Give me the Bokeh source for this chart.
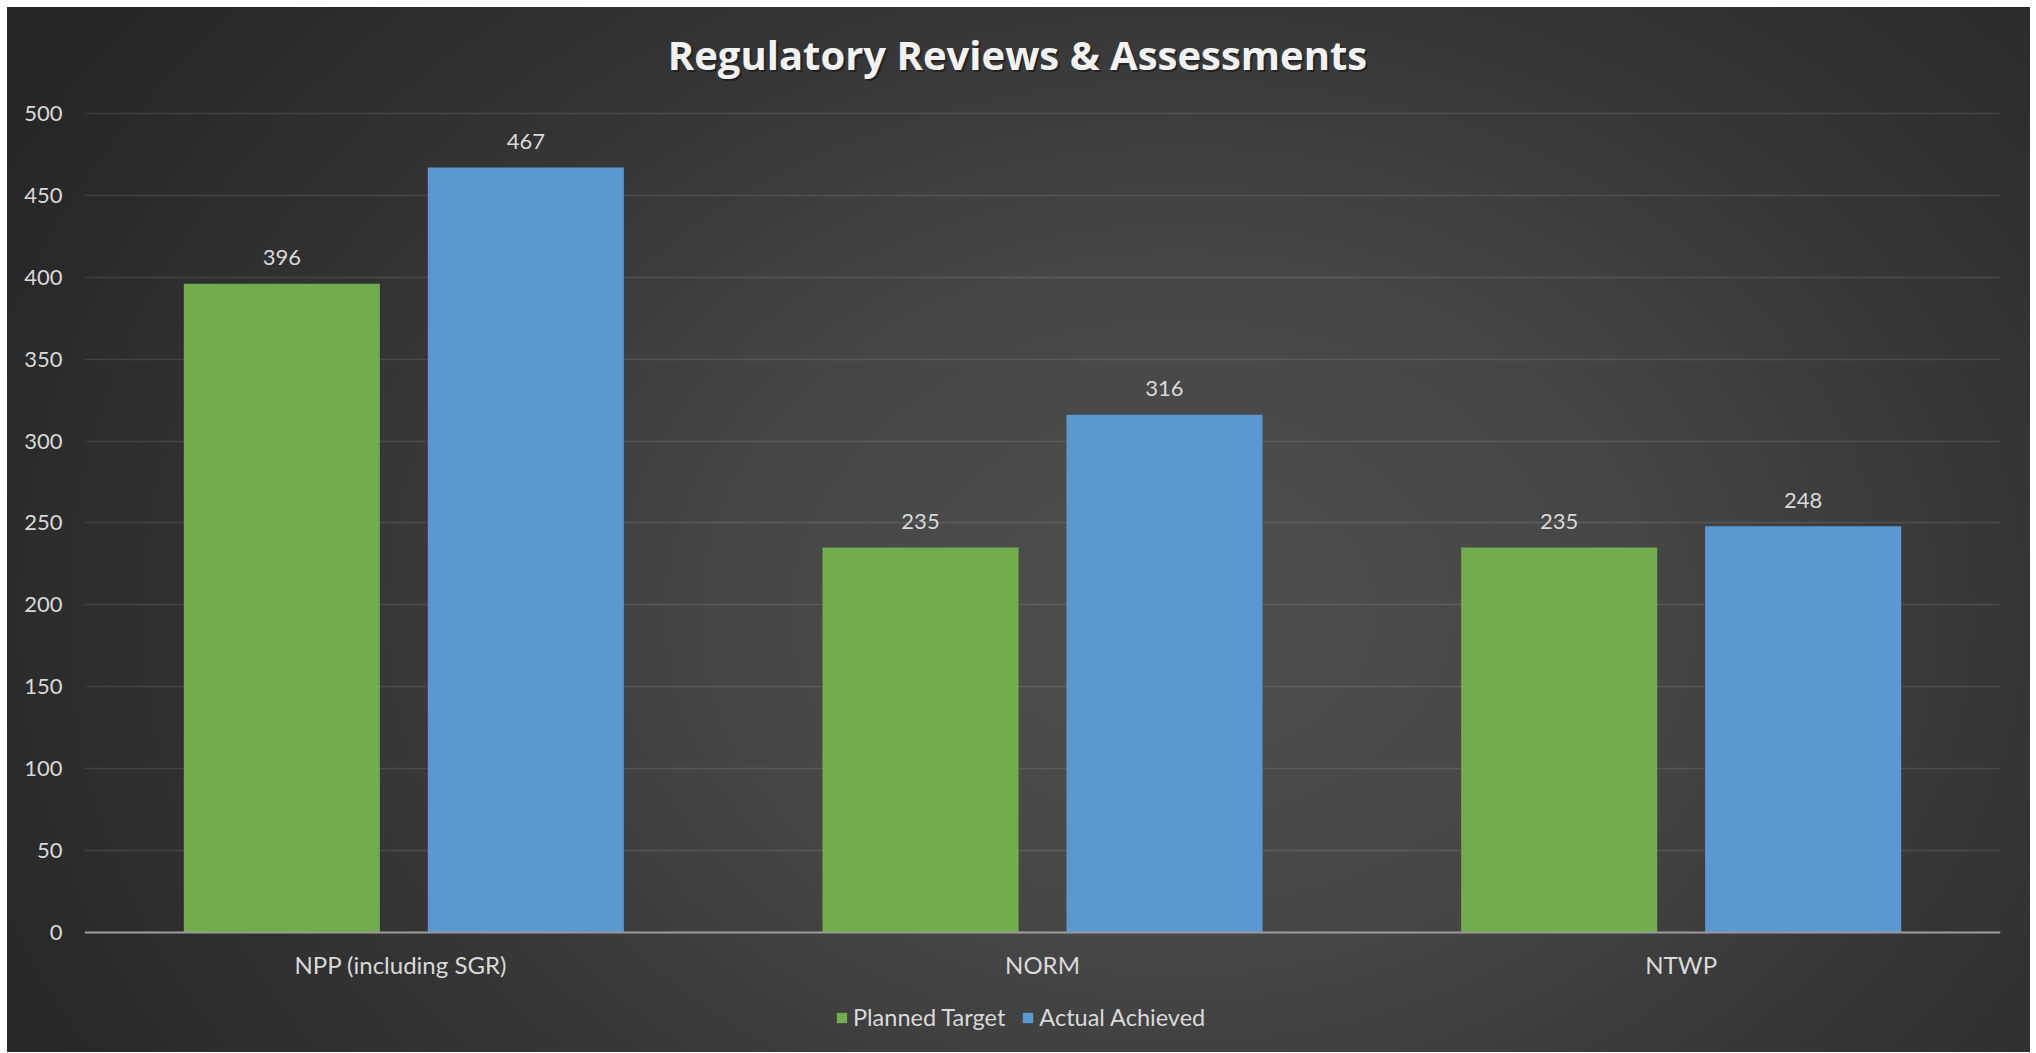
from bokeh.plotting import figure
from bokeh.models import ColumnDataSource, LabelSet, Label, Legend, LegendItem, FactorRange, FixedTicker
from bokeh.core.properties import value
from bokeh.transform import dodge
from bokeh.embed import file_html
from bokeh.resources import INLINE

categories = ["NPP (including  SGR)", "NORM", "NTWP"]
planned = [396, 235, 235]
actual = [467, 316, 248]
series_names = ["Planned Target", "Actual Achieved"]
y_ticks = [0, 50, 100, 150, 200, 250, 300, 350, 400, 450, 500]
title_text = "Regulatory Reviews & Assessments"

FONT = "Lato"
TXT = "#d9d9d9"
GREEN = "#71ad4c"
BLUE = "#5a98d2"

src = ColumnDataSource(dict(cat=categories, planned=planned, actual=actual,
                            planned_lbl=[str(v) for v in planned],
                            actual_lbl=[str(v) for v in actual]))

# frame spans the full figure height; y=0..500 sits where the reference plots it
p = figure(x_range=FactorRange(*categories), y_range=(-73.3, 564.7),
           frame_width=1916, frame_height=1045, output_backend="svg", toolbar_location=None,
           min_border_left=77, min_border_right=30, min_border_top=0, min_border_bottom=0)

p.styles = {"margin-left": "7px", "margin-top": "7px",
            "background-image": "radial-gradient(ellipse 65% 95% at 58% 58%, #4f4f4f 0%, #464646 35%, #353535 65%, #272727 100%)"}
p.background_fill_alpha = 0
p.border_fill_alpha = 0
p.outline_line_color = None

# title (with a soft shadow)
p.add_layout(Label(x=935, y=996, x_units="screen", y_units="screen", text=title_text,
                   text_align="center", text_baseline="middle", text_font="Open Sans",
                   text_font_style="bold", text_font_size="40px", text_color="#111111",
                   text_alpha=0.55))
p.add_layout(Label(x=933, y=998, x_units="screen", y_units="screen", text=title_text,
                   text_align="center", text_baseline="middle", text_font="Open Sans",
                   text_font_style="bold", text_font_size="40px", text_color="#f2f2f2"))

r1 = p.vbar(x=dodge("cat", -0.191, range=p.x_range), top="planned", bottom=0, width=0.307,
            source=src, fill_color=GREEN, line_color=None)
r2 = p.vbar(x=dodge("cat", 0.191, range=p.x_range), top="actual", bottom=0, width=0.307,
            source=src, fill_color=BLUE, line_color=None)

for col, off in (("planned", -0.191), ("actual", 0.191)):
    ls = LabelSet(x=dodge("cat", off, range=p.x_range), y=col, text=col + "_lbl", source=src,
                  y_offset=26, text_align="center", text_baseline="middle",
                  text_font=value(FONT), text_font_size="22px", text_color=TXT)
    p.add_layout(ls)

p.yaxis.ticker = FixedTicker(ticks=y_ticks)
p.yaxis.axis_line_color = None
p.yaxis.major_tick_line_color = None
p.yaxis.minor_tick_line_color = None
p.yaxis.major_label_text_font = FONT
p.yaxis.major_label_text_font_size = "22px"
p.yaxis.major_label_text_color = TXT
p.yaxis.major_label_standoff = 16

p.xaxis.fixed_location = 0
p.xaxis.axis_line_color = "#9a9a9a"
p.xaxis.axis_line_width = 2
p.xaxis.major_tick_line_color = None
p.xaxis.minor_tick_line_color = None
p.xaxis.major_label_text_font = FONT
p.xaxis.major_label_text_font_size = "24px"
p.xaxis.major_label_text_color = TXT
p.xaxis.major_label_standoff = 12

p.xgrid.grid_line_color = None
p.ygrid.grid_line_color = "white"
p.ygrid.grid_line_alpha = 0.11
p.ygrid.grid_line_width = 1.5

legend = Legend(items=[LegendItem(label=series_names[0], renderers=[r1]),
                       LegendItem(label=series_names[1], renderers=[r2])],
                orientation="horizontal", location=(751, 21),
                background_fill_alpha=0, border_line_color=None,
                label_text_font=FONT, label_text_font_size="23.5px", label_text_color=TXT,
                glyph_width=13, glyph_height=13, label_standoff=5, spacing=16,
                margin=0, padding=0)
p.add_layout(legend)

open("out.html", "w").write(file_html(p, INLINE))
